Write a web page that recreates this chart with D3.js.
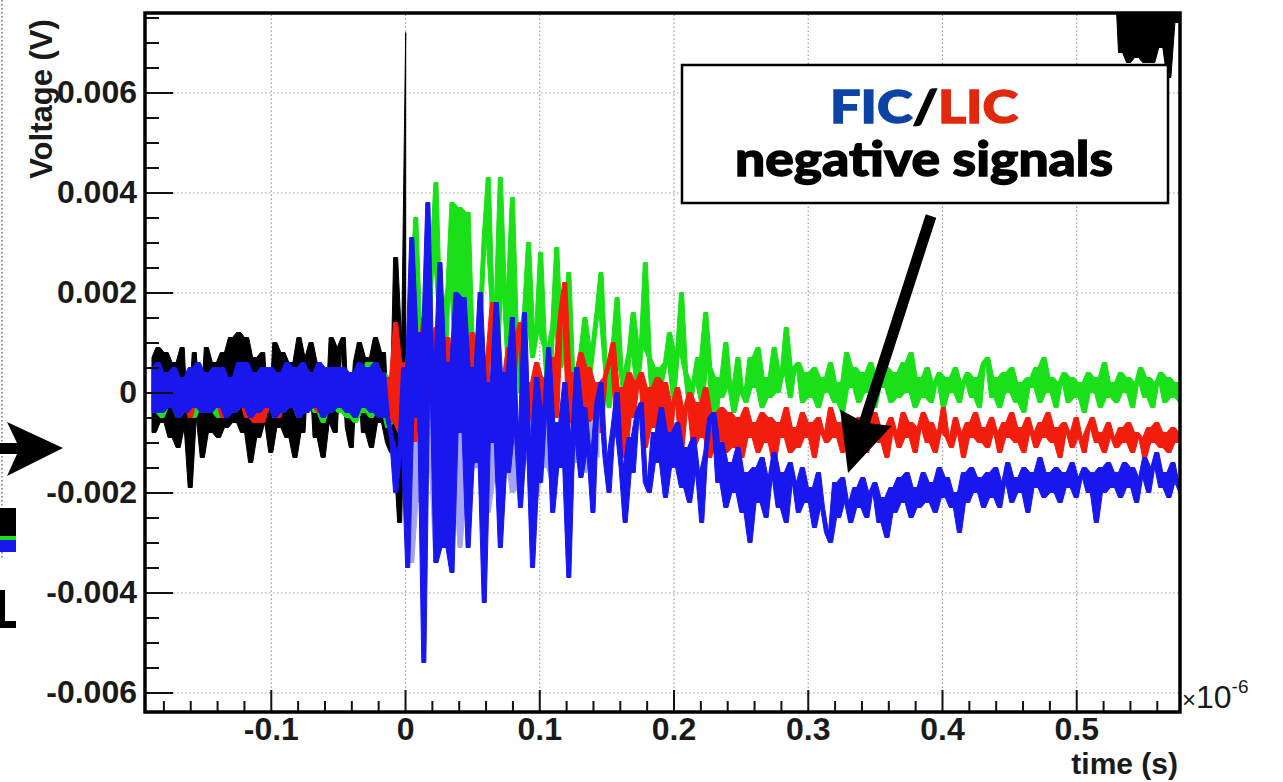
<!DOCTYPE html>
<html>
<head>
<meta charset="utf-8">
<script src="https://cdn.jsdelivr.net/npm/d3@7"></script>
<style>
  html, body { margin: 0; padding: 0; background: #fff; }
  svg { display: block; }
  .axis .tick text { font-family: "Liberation Sans", Arial, sans-serif; font-weight: bold; font-size: 32px; fill: #1a1a1a; }
  .axis .tick line { stroke: #111; stroke-width: 2; }
  .grid .tick line { stroke: #9a9a9a; stroke-width: 1.2; stroke-dasharray: 1.5 2.5; }
  .label { font-family: "Liberation Sans", Arial, sans-serif; font-weight: bold; fill: #1a1a1a; }
  .note { font-family: Lato, "Open Sans", sans-serif; font-weight: 900; stroke-width: 1.3; }
</style>
</head>
<body>
<div class="container"></div>
<script>
const WIDTH = 1283;
const HEIGHT = 782;
const MARGIN = {top: 13, right: 103, bottom: 70, left: 145};
const INNER_WIDTH = WIDTH - MARGIN.left - MARGIN.right;
const INNER_HEIGHT = HEIGHT - MARGIN.top - MARGIN.bottom;

// axes: time in units of 1e-6 s, voltage in V
const X_DOMAIN = [-0.1937, 0.5773];
const Y_DOMAIN = [-0.00639, 0.00759];
const X_TICKS = [-0.1, 0, 0.1, 0.2, 0.3, 0.4, 0.5];
const Y_TICKS = [-0.006, -0.004, -0.002, 0, 0.002, 0.004, 0.006];

// traces are read every 0.003 (x1e-6 s) starting at -0.19, values in mV
const T0 = -0.19;
const DT = 0.003;

const blackEarly = [
  0.7,-0.8,0.9,-0.6,0.8,-0.9,0.6,-1.1,0.9,-0.7,-1.9,0.8,-0.5,-1.3,0.9,-0.8,
  0.6,-0.9,0.8,-0.7,1.1,-0.6,1.2,-0.8,1.1,-1.4,0.7,-0.9,0.8,-0.6,-1.2,1.0,
  -0.7,0.8,-0.9,0.6,-1.3,1.1,-0.8,0.7,1.0,-0.9,0.6,-1.3,-0.6,1.1,-0.8,0.9,
  1.1,-0.7,-1.1,0.6,1.0,-0.8,0.7,-1.1,1.1,-0.6,0.8,-1.0,-1.2,2.7,-2.6,1.0,
  7.2
];
// black comes back into view (from above the frame) only near the end
const BLACK_LATE_START = 238;
const blackLate = [
  8.4,8.5,8.6,6.8,8.5,6.6,8.4,6.7,8.6,6.6,8.5,6.6,8.4,6.9,8.5,6.3,8.6,7.4,8.5
];

const green = [
  0.2,-0.4,0.1,-0.5,0.3,-0.3,0.2,-0.5,0.0,-0.4,0.3,-0.5,0.1,-0.3,0.2,-0.4,
  0.1,-0.5,0.3,-0.2,0.2,-0.4,0.4,-0.3,0.1,-0.5,0.2,-0.4,0.5,-0.2,0.3,-0.5,
  0.2,-0.4,0.5,-0.3,0.1,-0.5,0.4,-0.2,0.3,-0.4,0.2,-0.6,0.3,-0.3,0.5,-0.4,
  0.3,-0.5,0.4,-0.6,0.2,-0.4,0.6,-0.5,0.6,-0.3,0.4,-0.7,0.3,-0.6,0.5,-0.8,
  -0.6,1.8,3.5,1.2,-0.4,0.8,2.6,4.2,1.5,-0.2,2.1,3.8,0.6,3.7,0.3,3.6,
  1.0,-0.3,1.4,3.1,4.3,1.7,0.2,4.3,2.0,0.4,3.9,1.1,0.0,1.6,3.0,0.7,
  1.2,2.8,0.9,-0.2,1.3,2.9,0.5,1.0,2.4,0.3,-0.4,0.8,1.5,0.2,0.9,1.6,
  2.4,0.6,-0.3,0.9,1.9,0.4,-0.2,0.8,1.6,0.1,0.9,2.6,0.7,-0.4,0.5,0.2,
  0.6,1.2,-0.1,0.8,2.0,0.4,-0.3,0.2,0.7,-0.2,1.6,0.5,-1.2,0.3,-0.1,1.0,
  0.1,-0.4,0.7,0.0,-0.2,0.7,0.1,0.9,-0.3,0.3,-0.1,0.9,0.0,0.4,1.3,-0.1,
  0.5,0.6,-0.2,0.4,-0.1,0.5,-0.3,0.3,0.0,0.6,-0.2,0.2,-0.4,0.8,0.1,0.5,
  -0.2,0.4,0.0,0.6,-0.3,0.3,0.1,0.5,-0.2,0.4,-0.1,0.6,0.0,0.8,-0.3,0.3,
  -0.1,0.5,-0.2,0.2,0.4,-0.3,0.3,0.0,0.5,-0.2,0.2,0.4,-0.1,0.3,-0.3,0.6,
  0.7,-0.1,0.3,-0.3,0.4,0.0,0.5,-0.2,0.2,-0.4,0.3,0.1,0.5,-0.2,0.7,0.0,
  0.3,-0.3,0.2,0.4,-0.2,0.3,-0.1,0.2,-0.4,0.4,0.0,0.3,-0.3,0.6,-0.1,0.2,
  -0.2,0.4,0.0,0.3,-0.3,0.2,0.5,-0.1,0.3,-0.3,0.2,0.4,-0.2,0.3,-0.1,0.2,
  -0.2
];

const red = [
  -0.3,0.2,-0.4,0.3,-0.2,0.4,-0.3,0.1,-0.2,0.3,-0.5,0.2,-0.2,0.4,-0.3,0.1,
  -0.2,0.2,-0.5,0.1,-0.3,0.3,-0.2,0.2,-0.5,0.1,-0.6,0.3,-0.6,0.2,-0.3,0.1,
  -0.5,0.3,-0.2,0.4,-0.3,0.1,-0.2,0.2,-0.3,0.3,-0.4,0.2,-0.2,0.4,-0.2,0.3,
  -0.3,0.2,-0.3,0.3,-0.2,0.1,-0.2,0.4,-0.3,0.2,-0.4,0.3,-0.6,1.4,-0.8,0.6,
  -1.6,1.2,-2.0,0.6,1.5,-0.9,0.3,1.3,-1.2,0.5,1.1,-0.8,0.0,1.4,-1.0,0.4,
  1.2,-1.3,0.2,-1.9,0.8,1.8,-0.7,0.3,-1.4,0.9,-0.4,1.1,1.4,-1.1,0.2,-1.3,
  0.6,-0.9,0.3,-1.4,0.7,-0.5,1.6,2.2,-0.6,0.4,-1.2,0.8,-0.3,0.5,-1.1,0.2,
  -0.8,0.3,0.6,1.0,-0.9,0.1,-1.3,0.4,-0.5,0.2,0.4,-1.1,0.1,-0.7,0.3,-1.0,
  0.2,-1.0,-0.2,0.1,-1.2,-0.3,0.0,-1.1,-0.2,-0.9,0.1,-1.3,-0.4,-0.9,-0.3,-1.2,
  -0.4,-1.1,-0.5,-1.3,-0.3,-0.9,-0.6,-1.2,-0.4,-1.0,-0.5,-1.4,-0.6,-0.9,-0.3,-1.2,
  -0.7,-1.1,-0.4,-0.9,-0.6,-1.3,-0.5,-0.8,-1.0,-0.3,-0.9,-0.6,-1.2,-0.5,-0.8,-1.1,
  -0.5,-0.9,-1.2,-0.6,-0.4,-1.0,-0.7,-1.3,-0.5,-0.8,-1.1,-0.4,-0.9,-0.6,-1.2,-0.7,
  -0.4,-1.0,-0.6,-1.2,-0.8,-0.3,-0.9,-1.1,-0.5,-0.8,-1.3,-0.6,-0.9,-0.4,-1.0,-0.7,
  -1.1,-0.5,-0.8,-1.2,-0.6,-0.9,-0.4,-1.0,-0.7,-1.2,-0.5,-0.8,-1.1,-0.6,-0.9,-0.4,
  -1.0,-0.7,-1.3,-0.6,-0.8,-1.1,-0.5,-0.9,-1.2,-0.7,-0.5,-1.0,-0.8,-1.2,-0.6,-0.9,
  -1.1,-0.7,-1.0,-0.6,-1.2,-0.8,-0.9,-1.3,-0.7,-1.0,-0.6,-1.1,-0.8,-1.2,-0.7,-1.0,
  -0.8
];

// pale blue trace, visible only just after the trigger
const LIGHT_BLUE_START = 63;
const lightBlue = [
  0.0,-1.2,-3.4,-1.0,-2.2,0.4,-1.6,-0.2,-3.4,-0.9,-2.6,0.3,-1.8,-0.5,-3.1,-0.7,
  -2.0,0.2,-1.5,-0.3,-2.2,-2.4,-0.6,-1.8,0.1,-1.4,-0.5,-2.0,-0.8,-1.9,-0.2,-1.3,
  -0.6,-2.1,-0.9,-1.5,-0.1,-1.8,-0.7,-1.2,-0.4,-2.0,-0.8,-1.4,-0.3,-1.6,-0.6,-1.1,
  -0.5,-1.3
];

const blue = [
  0.5,-0.4,0.6,-0.4,0.4,-0.3,0.5,-0.5,0.3,-0.4,0.5,-0.3,0.6,-0.4,0.4,-0.4,
  0.5,-0.3,0.5,-0.5,0.3,-0.4,0.6,-0.3,0.6,-0.5,0.4,-0.4,0.5,-0.3,0.5,-0.5,
  0.4,-0.4,0.6,-0.3,0.5,-0.5,0.6,-0.4,0.4,-0.3,0.6,-0.5,0.5,-0.4,0.5,-0.3,
  0.5,-0.4,0.4,-0.5,0.6,-0.3,0.5,-0.4,0.6,-0.5,0.4,-0.5,-0.9,-2.0,-1.2,0.5,
  -3.5,3.1,-0.5,1.2,-5.4,3.8,0.4,-3.4,2.6,-3.1,0.6,-3.6,2.0,-0.8,1.9,-3.1,
  0.5,-1.4,2.0,-4.2,0.2,-1.0,1.8,-3.1,0.4,-1.6,1.5,-0.8,-2.3,1.6,-1.0,-3.5,
  0.3,-1.8,-0.4,0.9,-2.4,-0.6,-1.5,0.2,-3.7,-0.9,0.5,-1.7,-0.3,-1.2,-2.4,-0.2,
  0.2,-1.3,-2.0,-0.7,0.0,-1.5,-2.6,-0.9,-1.6,-0.4,-0.2,-1.8,-2.0,-0.8,-1.4,-0.3,
  -2.1,-0.8,-1.5,-0.6,-1.9,-1.1,-2.2,-0.9,-1.6,-2.6,-1.2,-0.5,-0.4,-1.8,-1.0,-2.3,
  -1.4,-2.0,-1.1,-2.4,-1.6,-3.0,-1.5,-2.2,-1.3,-2.5,-1.7,-1.2,-2.3,-1.6,-2.6,-1.4,
  -1.8,-2.4,-1.5,-2.2,-1.9,-2.7,-1.6,-2.3,-2.8,-3.0,-1.8,-2.5,-1.7,-2.2,-2.6,-1.9,
  -2.3,-1.7,-2.5,-2.0,-1.8,-2.6,-2.1,-2.9,-1.9,-2.4,-1.7,-2.2,-1.6,-2.5,-1.9,-2.3,
  -1.6,-2.2,-1.8,-2.4,-1.5,-2.1,-1.7,-2.3,-2.0,-2.8,-1.6,-2.2,-1.5,-2.0,-1.7,-2.3,
  -1.6,-2.1,-1.5,-2.3,-1.8,-1.4,-2.2,-1.7,-2.0,-1.5,-2.4,-1.6,-1.9,-1.3,-2.1,-1.6,
  -2.0,-1.5,-2.2,-1.6,-1.9,-1.4,-2.1,-1.7,-1.5,-2.0,-1.6,-2.6,-1.5,-2.0,-1.4,-1.9,
  -1.6,-2.1,-1.4,-1.9,-1.5,-2.2,-1.7,-1.3,-2.0,-1.5,-1.2,-1.9,-1.6,-2.1,-1.4,-1.8,
  -2.0
];

// annotation arrow, in data units (time, mV)
const NOTE_ARROW = {from: [0.3918, 3.53], to: [0.330, -1.61]};

var translate = function(x, y){
  return "translate(" + x + "," + y + ")";
};

var loadChart = function(){
  var svg = d3.select('.container').append('svg')
    .attr('width', WIDTH)
    .attr('height', HEIGHT);

  var x = d3.scaleLinear().domain(X_DOMAIN).range([0, INNER_WIDTH]);
  var y = d3.scaleLinear().domain(Y_DOMAIN).range([INNER_HEIGHT, 0]);
  var mv = function(v){ return y(v * 1e-3); };

  var g = svg.append('g').attr('transform', translate(MARGIN.left, MARGIN.top));

  svg.append('defs').append('clipPath').attr('id', 'plot-clip')
    .append('rect').attr('width', INNER_WIDTH).attr('height', INNER_HEIGHT);

  // dotted grid
  g.append('g').classed('grid', true)
    .attr('transform', translate(0, INNER_HEIGHT))
    .call(d3.axisBottom(x).tickValues(X_TICKS).tickSize(-INNER_HEIGHT).tickFormat(''))
    .call(function(s){ s.select('.domain').remove(); });
  g.append('g').classed('grid', true)
    .call(d3.axisLeft(y).tickValues(Y_TICKS).tickSize(-INNER_WIDTH).tickFormat(''))
    .call(function(s){ s.select('.domain').remove(); });

  // each pair of neighbouring samples fills the span it sweeps, like a dense scope trace
  var toBand = function(start, values){
    var band = [];
    for (var i = 0; i < values.length - 1; i++) {
      var a = values[i], b = values[i + 1];
      band.push({t: T0 + (start + i + 0.5) * DT, lo: Math.min(a, b), hi: Math.max(a, b)});
    }
    return band;
  };
  var area = d3.area()
    .x(function(d){ return x(d.t); })
    .y0(function(d){ return mv(d.lo); })
    .y1(function(d){ return mv(d.hi); });

  var traces = [
    {color: '#000000', start: 0, values: blackEarly},
    {color: '#000000', start: BLACK_LATE_START, values: blackLate},
    {color: '#19e019', start: 0, values: green},
    {color: '#f21d0c', start: 0, values: red},
    {color: '#a3a3f2', start: LIGHT_BLUE_START, values: lightBlue},
    {color: '#1717ee', start: 0, values: blue}
  ];

  var plot = g.append('g').attr('clip-path', 'url(#plot-clip)');
  plot.selectAll('path.trace')
    .data(traces)
    .enter().append('path')
    .classed('trace', true)
    .attr('d', function(d){ return area(toBand(d.start, d.values)); })
    .attr('fill', function(d){ return d.color; })
    .attr('stroke', function(d){ return d.color; })
    .attr('stroke-width', 1)
    .attr('stroke-linejoin', 'round');

  // axes with inward ticks
  var fmtX = function(v){ return v === 0 ? '0' : String(+v.toFixed(1)); };
  var fmtY = function(v){ return v === 0 ? '0' : v.toFixed(3); };
  var minorX = d3.range(-0.18, 0.57, 0.02).filter(function(v){ return Math.abs(Math.round(v * 10) - v * 10) > 0.01; });
  var minorY = d3.range(-0.006, 0.0076, 0.0005).filter(function(v){ return Math.abs(Math.round(v * 500) - v * 500) > 0.01; });

  g.append('g').classed('axis', true)
    .attr('transform', translate(0, INNER_HEIGHT))
    .call(d3.axisBottom(x).tickValues(minorX).tickSizeInner(-11).tickSizeOuter(0).tickFormat(''))
    .call(function(s){ s.select('.domain').remove(); });
  g.append('g').classed('axis', true)
    .attr('transform', translate(0, INNER_HEIGHT))
    .call(d3.axisBottom(x).tickValues(X_TICKS).tickSizeInner(-22).tickSizeOuter(0).tickPadding(5).tickFormat(fmtX))
    .call(function(s){ s.select('.domain').remove(); });
  g.append('g').classed('axis', true)
    .call(d3.axisLeft(y).tickValues(minorY).tickSizeInner(-14).tickSizeOuter(0).tickFormat(''))
    .call(function(s){ s.select('.domain').remove(); });
  g.append('g').classed('axis', true)
    .call(d3.axisLeft(y).tickValues(Y_TICKS).tickSizeInner(-28).tickSizeOuter(0).tickPadding(8).tickFormat(fmtY))
    .call(function(s){ s.select('.domain').remove(); });

  // frame
  g.append('rect')
    .attr('width', INNER_WIDTH)
    .attr('height', INNER_HEIGHT)
    .attr('fill', 'none')
    .attr('stroke', '#000')
    .attr('stroke-width', 3.5);

  // axis titles
  svg.append('text').classed('label', true)
    .attr('transform', translate(52, 99) + ' rotate(-90)')
    .attr('text-anchor', 'middle')
    .style('font-size', '31px')
    .text('Voltage (V)');
  svg.append('text').classed('label', true)
    .attr('x', MARGIN.left + INNER_WIDTH - 2)
    .attr('y', 774)
    .attr('text-anchor', 'end')
    .style('font-size', '30px')
    .text('time (s)');
  var exp = svg.append('text').classed('label', true)
    .attr('x', MARGIN.left + INNER_WIDTH + 2)
    .attr('y', 708)
    .style('font-weight', 'normal');
  exp.append('tspan').style('font-size', '24px').text('\u00d7');
  exp.append('tspan').style('font-size', '32px').text('10');
  exp.append('tspan').attr('dy', -15).style('font-size', '19px').text('-6');

  // annotation box
  svg.append('rect')
    .attr('x', 682).attr('y', 65)
    .attr('width', 486).attr('height', 138)
    .attr('fill', '#fff')
    .attr('stroke', '#000')
    .attr('stroke-width', 2.5);
  var title = svg.append('text').classed('note', true)
    .attr('x', 924).attr('y', 123)
    .attr('text-anchor', 'middle')
    .attr('textLength', 188)
    .attr('lengthAdjust', 'spacingAndGlyphs')
    .style('font-size', '45px');
  title.append('tspan').attr('fill', '#0c44a6').attr('stroke', '#0c44a6').text('FIC');
  title.append('tspan').attr('fill', '#000').attr('stroke', '#000').text('/');
  title.append('tspan').attr('fill', '#e1280d').attr('stroke', '#e1280d').text('LIC');
  svg.append('text').classed('note', true)
    .attr('x', 924).attr('y', 176)
    .attr('text-anchor', 'middle')
    .attr('textLength', 378)
    .attr('lengthAdjust', 'spacingAndGlyphs')
    .style('font-size', '48px')
    .attr('fill', '#000')
    .attr('stroke', '#000')
    .text('negative signals');

  // annotation arrow pointing at the blue trace
  var p0 = [MARGIN.left + x(NOTE_ARROW.from[0]), MARGIN.top + mv(NOTE_ARROW.from[1])];
  var p1 = [MARGIN.left + x(NOTE_ARROW.to[0]), MARGIN.top + mv(NOTE_ARROW.to[1])];
  var dx = p1[0] - p0[0], dy = p1[1] - p0[1], len = Math.sqrt(dx * dx + dy * dy);
  var ux = dx / len, uy = dy / len, nx = -uy, ny = ux;
  var headLen = 58, headHalf = 27, shaftHalf = 5.5;
  var bx = p1[0] - ux * headLen, by = p1[1] - uy * headLen;
  var arrowPts = [
    [p0[0] + nx * shaftHalf, p0[1] + ny * shaftHalf],
    [bx + nx * shaftHalf + ux * 4, by + ny * shaftHalf + uy * 4],
    [bx + nx * headHalf, by + ny * headHalf],
    p1,
    [bx - nx * headHalf, by - ny * headHalf],
    [bx - nx * shaftHalf + ux * 4, by - ny * shaftHalf + uy * 4],
    [p0[0] - nx * shaftHalf, p0[1] - ny * shaftHalf]
  ];
  svg.append('path')
    .attr('d', d3.line()(arrowPts) + 'Z')
    .attr('fill', '#000');

  // pieces of the neighbouring slide content on the left edge
  svg.append('line')
    .attr('x1', 2).attr('y1', 0).attr('x2', 2).attr('y2', 560)
    .attr('stroke', '#777').attr('stroke-width', 1.5)
    .attr('stroke-dasharray', '1.5 2.5');
  svg.append('path')
    .attr('d', d3.line()([[0, 443], [17, 443], [7, 422], [63, 448], [7, 476], [17, 454], [0, 454]]) + 'Z')
    .attr('fill', '#000');
  svg.append('rect').attr('x', 0).attr('y', 508).attr('width', 16).attr('height', 30).attr('fill', '#000');
  svg.append('rect').attr('x', 0).attr('y', 536).attr('width', 16).attr('height', 4).attr('fill', '#19e019');
  svg.append('rect').attr('x', 0).attr('y', 540).attr('width', 16).attr('height', 12).attr('fill', '#1717ee');
  svg.append('rect').attr('x', 0).attr('y', 590).attr('width', 5).attr('height', 38).attr('fill', '#000');
  svg.append('rect').attr('x', 0).attr('y', 621).attr('width', 16).attr('height', 7).attr('fill', '#000');
};
window.onload = loadChart;
</script>
</body>
</html>
